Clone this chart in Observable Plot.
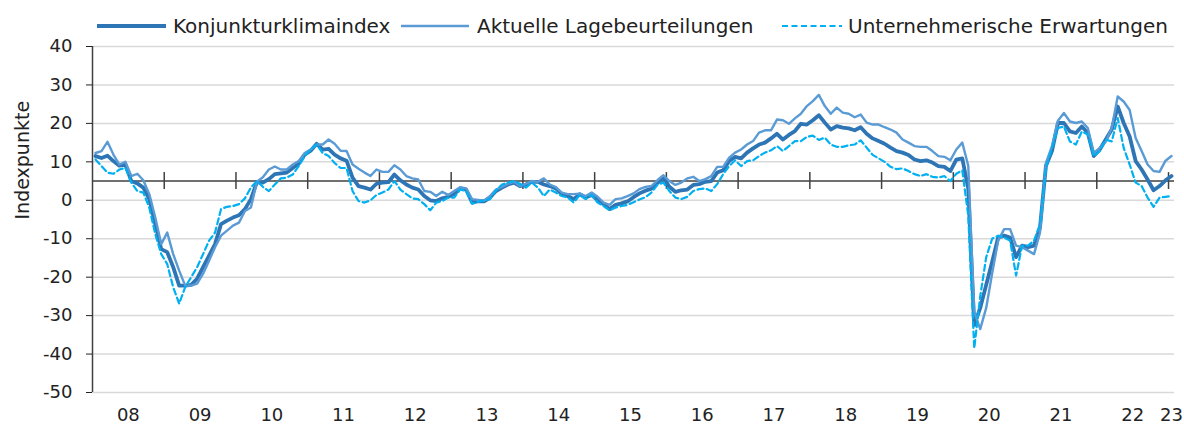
<!DOCTYPE html>
<html><head><meta charset="utf-8">
<script src="https://cdn.jsdelivr.net/npm/d3@7"></script>
<script src="https://cdn.jsdelivr.net/npm/@observablehq/plot@0.6"></script>
<style>
body{margin:0;background:#fff;}
#legend{position:relative;width:1184px;height:36px;font-family:"DejaVu Sans";font-size:20px;color:#222;}
#legend .sw{position:absolute;top:14px;height:24px;}
#legend .tx{position:absolute;top:14px;height:24px;line-height:24px;white-space:nowrap;}
</style></head><body>
<div id="legend"></div><div id="chart"></div>
<script>
const seriesNames = ["Konjunkturklimaindex", "Aktuelle Lagebeurteilungen", "Unternehmerische Erwartungen"];
const seriesColors = ["#2E75B6", "#5B9BD5", "#00B0F0"];
const yearLabels = ["08","09","10","11","12","13","14","15","16","17","18","19","20","21","22","23"];
const yTicks = [-50,-40,-30,-20,-10,0,10,20,30,40];
const yTickLabels = ["-50","-40","-30","-20","-10","0","10","20","30","40"];

// Monthly values, Jan 2008 .. Jan 2023
const konjunktur = [
 11.5, 11.0, 11.6, 10.2, 9.0, 9.3, 5.0, 4.4, 3.3, 0.3, -6.2, -12.7,
 -13.5, -17.4, -22.2, -22.2, -22.0, -20.4, -17.4, -14.4, -11.4, -6.2, -5.3, -4.5,
 -3.9, -2.3, 0.3, 4.7, 4.6, 5.5, 6.8, 7.0, 7.2, 8.4, 9.5, 11.9,
 12.9, 14.7, 13.2, 13.4, 11.9, 10.9, 10.3, 5.9, 3.7, 3.3, 2.8, 4.3,
 4.6, 4.7, 6.7, 5.2, 4.1, 3.3, 2.8, 1.1, 0.0, -0.2, 0.5, 0.9,
 1.6, 3.1, 2.8, -0.6, -0.2, -0.3, 0.7, 2.4, 3.3, 4.1, 4.6, 3.7,
 4.1, 4.8, 4.8, 4.1, 3.7, 3.1, 1.6, 1.1, 0.3, 1.6, 0.7, 1.4,
 0.0, -1.0, -2.3, -1.2, -0.8, -0.3, 0.8, 1.8, 2.5, 3.0, 4.5, 5.9,
 3.5, 2.2, 2.6, 2.8, 4.0, 4.2, 4.8, 5.0, 7.2, 7.8, 10.2, 11.3,
 10.9, 12.4, 13.5, 14.5, 15.0, 16.1, 17.3, 15.8, 17.0, 18.0, 19.9, 19.7,
 20.8, 22.1, 20.2, 18.4, 19.3, 18.9, 18.7, 18.2, 19.0, 17.3, 16.1, 15.4,
 14.7, 13.7, 12.8, 12.4, 11.8, 10.6, 10.2, 10.4, 9.8, 8.9, 8.7, 7.6,
 10.6, 10.9, 3.0, -32.5, -28.0, -22.0, -16.0, -9.7, -9.2, -9.7, -14.8, -11.8,
 -12.2, -11.8, -7.1, 9.0, 12.8, 20.1, 20.1, 17.9, 17.5, 19.2, 17.5, 11.5,
 13.2, 15.8, 18.4, 24.4, 20.1, 16.6, 10.2, 8.0, 5.4, 2.6, 3.7, 5.2,
 6.3
];
const lage = [
 12.3, 12.8, 15.2, 11.9, 9.3, 10.0, 6.3, 6.9, 5.2, 1.6, -4.5, -11.4,
 -8.4, -14.0, -18.3, -22.2, -22.2, -21.7, -19.1, -15.7, -12.2, -9.2, -7.9, -6.6,
 -5.8, -2.8, -1.9, 4.8, 6.0, 8.0, 8.8, 8.0, 8.0, 9.3, 10.2, 12.3,
 13.2, 14.5, 14.5, 15.8, 14.7, 12.9, 12.8, 9.3, 8.2, 7.2, 6.3, 8.0,
 7.4, 7.4, 9.1, 8.0, 6.3, 5.7, 5.4, 2.4, 2.2, 1.1, 2.2, 1.4,
 2.4, 3.4, 3.1, 0.3, 0.1, -0.1, 1.1, 2.8, 3.5, 4.3, 4.8, 3.7,
 4.3, 5.0, 4.8, 5.7, 4.1, 3.4, 2.0, 1.6, 1.6, 1.7, 1.1, 2.0,
 0.9, -0.6, -1.2, 0.3, 0.5, 1.1, 1.8, 2.9, 3.5, 3.7, 5.2, 6.5,
 5.0, 4.0, 4.6, 5.7, 6.1, 5.0, 5.5, 6.3, 8.7, 8.7, 11.1, 12.4,
 13.2, 14.5, 15.4, 17.6, 18.2, 18.2, 21.0, 20.8, 19.9, 21.3, 22.5, 24.5,
 25.8, 27.4, 24.5, 22.5, 24.1, 22.8, 22.5, 21.6, 22.3, 20.2, 19.7, 19.7,
 19.0, 18.4, 17.6, 15.8, 15.0, 14.1, 13.9, 13.9, 12.8, 11.5, 11.3, 10.4,
 13.2, 15.0, 9.0, -29.0, -33.5, -28.0, -19.0, -10.5, -7.5, -7.5, -11.8, -12.2,
 -13.1, -14.0, -8.4, 9.7, 14.1, 20.7, 22.7, 20.5, 20.1, 20.5, 18.8, 12.3,
 13.6, 15.3, 18.8, 27.0, 25.7, 23.5, 16.2, 12.8, 9.3, 7.6, 7.4, 10.3,
 11.5
];
const erwartungen = [
 10.6, 8.9, 7.2, 6.9, 8.0, 8.4, 4.6, 2.4, 2.0, -1.9, -8.8, -14.0,
 -16.6, -22.6, -26.9, -22.6, -20.0, -17.4, -14.0, -10.5, -8.4, -2.3, -1.7, -1.5,
 -1.0, 0.5, 3.3, 5.0, 3.5, 2.4, 4.1, 5.7, 5.9, 6.7, 8.9, 11.5,
 13.2, 14.5, 12.3, 11.5, 9.7, 8.4, 8.4, 2.4, -0.2, -0.6, 0.0, 1.4,
 2.0, 2.8, 5.0, 2.8, 1.6, 0.5, 0.3, -1.0, -2.6, -0.6, -0.2, 0.7,
 0.7, 2.8, 2.4, -0.9, -0.4, 0.0, 0.3, 2.6, 4.1, 4.6, 5.0, 4.3,
 3.3, 4.6, 3.3, 1.1, 2.8, 2.0, 1.1, 0.7, -0.6, 1.4, 0.3, 1.4,
 -0.6, -1.5, -2.6, -1.9, -1.5, -1.2, -0.5, 0.2, 0.8, 2.0, 4.0, 4.6,
 2.4, 0.7, 0.3, 0.9, 2.4, 2.9, 3.1, 2.4, 4.2, 6.8, 8.9, 10.4,
 8.9, 10.2, 10.4, 11.5, 12.4, 13.0, 14.1, 12.8, 14.1, 15.4, 15.4, 16.5,
 16.8, 15.7, 16.3, 14.5, 13.9, 13.9, 14.3, 14.5, 15.6, 13.7, 11.8, 10.9,
 10.0, 8.7, 8.1, 8.3, 7.6, 6.8, 6.3, 6.8, 6.1, 5.9, 6.3, 5.0,
 6.9, 7.8, -4.0, -38.5, -25.0, -14.8, -10.0, -9.2, -9.7, -10.5, -19.6, -11.8,
 -11.8, -10.5, -6.2, 8.4, 13.6, 18.8, 19.2, 15.3, 14.5, 17.9, 17.1, 11.5,
 12.8, 15.8, 15.3, 21.4, 13.6, 9.3, 4.6, 3.7, 0.7, -1.7, 0.7, 0.9,
 1.1
];

const series = [konjunktur, lage, erwartungen];
const widths = [3.8, 2.4, 2.2];
const dashes = [null, null, "6,3.5"];

// Legend (HTML, above the SVG)
const legend = document.getElementById("legend");
const swLeft = [97, 401, 782], swW = [69, 68, 60], txLeft = [173, 477, 848];
seriesNames.forEach((name, i) => {
  const sw = document.createElementNS("http://www.w3.org/2000/svg", "svg");
  sw.setAttribute("class", "sw");
  sw.setAttribute("width", swW[i]);
  sw.setAttribute("height", 24);
  sw.style.left = swLeft[i] + "px";
  const ln = document.createElementNS("http://www.w3.org/2000/svg", "line");
  ln.setAttribute("x1", 0); ln.setAttribute("x2", swW[i]);
  ln.setAttribute("y1", 12); ln.setAttribute("y2", 12);
  ln.setAttribute("stroke", seriesColors[i]);
  ln.setAttribute("stroke-width", widths[i]);
  if (dashes[i]) ln.setAttribute("stroke-dasharray", dashes[i]);
  sw.appendChild(ln);
  legend.appendChild(sw);
  const tx = document.createElement("div");
  tx.className = "tx";
  tx.style.left = txLeft[i] + "px";
  tx.textContent = name;
  legend.appendChild(tx);
});

const nMonths = konjunktur.length;
const yearBreaks = d3.range(1, 16).map(k => 12 * k - 0.5);
const labelPos = [...d3.range(15).map(k => 12 * k + 5.5), 180];

const lineMarks = series.map((s, i) => Plot.line(s, {
  x: (d, j) => j, y: d => d,
  stroke: seriesColors[i], strokeWidth: widths[i],
  strokeDasharray: dashes[i] || undefined,
  strokeLinejoin: "round"
}));

const chart = Plot.plot({
  width: 1184, height: 392,
  marginLeft: 92, marginRight: 10, marginTop: 10, marginBottom: 36,
  style: {fontFamily: "DejaVu Sans", fontSize: "18px", color: "#222", background: "#fff"},
  x: {domain: [-0.5, nMonths - 0.5]},
  y: {domain: [-50, 40]},
  marks: [
    Plot.ruleY(yTicks, {stroke: "#d9d9d9", strokeWidth: 1.5}),
    Plot.ruleY([5], {stroke: "#404040", strokeWidth: 1.5}),
    Plot.ruleX(yearBreaks, {y1: 2.8, y2: 7.2, stroke: "#404040", strokeWidth: 1.5}),
    Plot.ruleX([-0.5], {stroke: "#404040", strokeWidth: 1.5}),
    Plot.axisY({ticks: yTicks, tickFormat: d => yTickLabels[yTicks.indexOf(d)], tickSize: 6, tickPadding: 14, label: null}),
    Plot.axisX({ticks: labelPos, tickFormat: (d, i) => yearLabels[i], tickSize: 0, tickPadding: 16, label: null}),
    ...lineMarks,
    Plot.text(["Indexpunkte"], {frameAnchor: "left", rotate: -90, dx: -70, fontSize: 19, fill: "#222"})
  ]
});
document.getElementById("chart").appendChild(chart);
</script>
</body></html>
